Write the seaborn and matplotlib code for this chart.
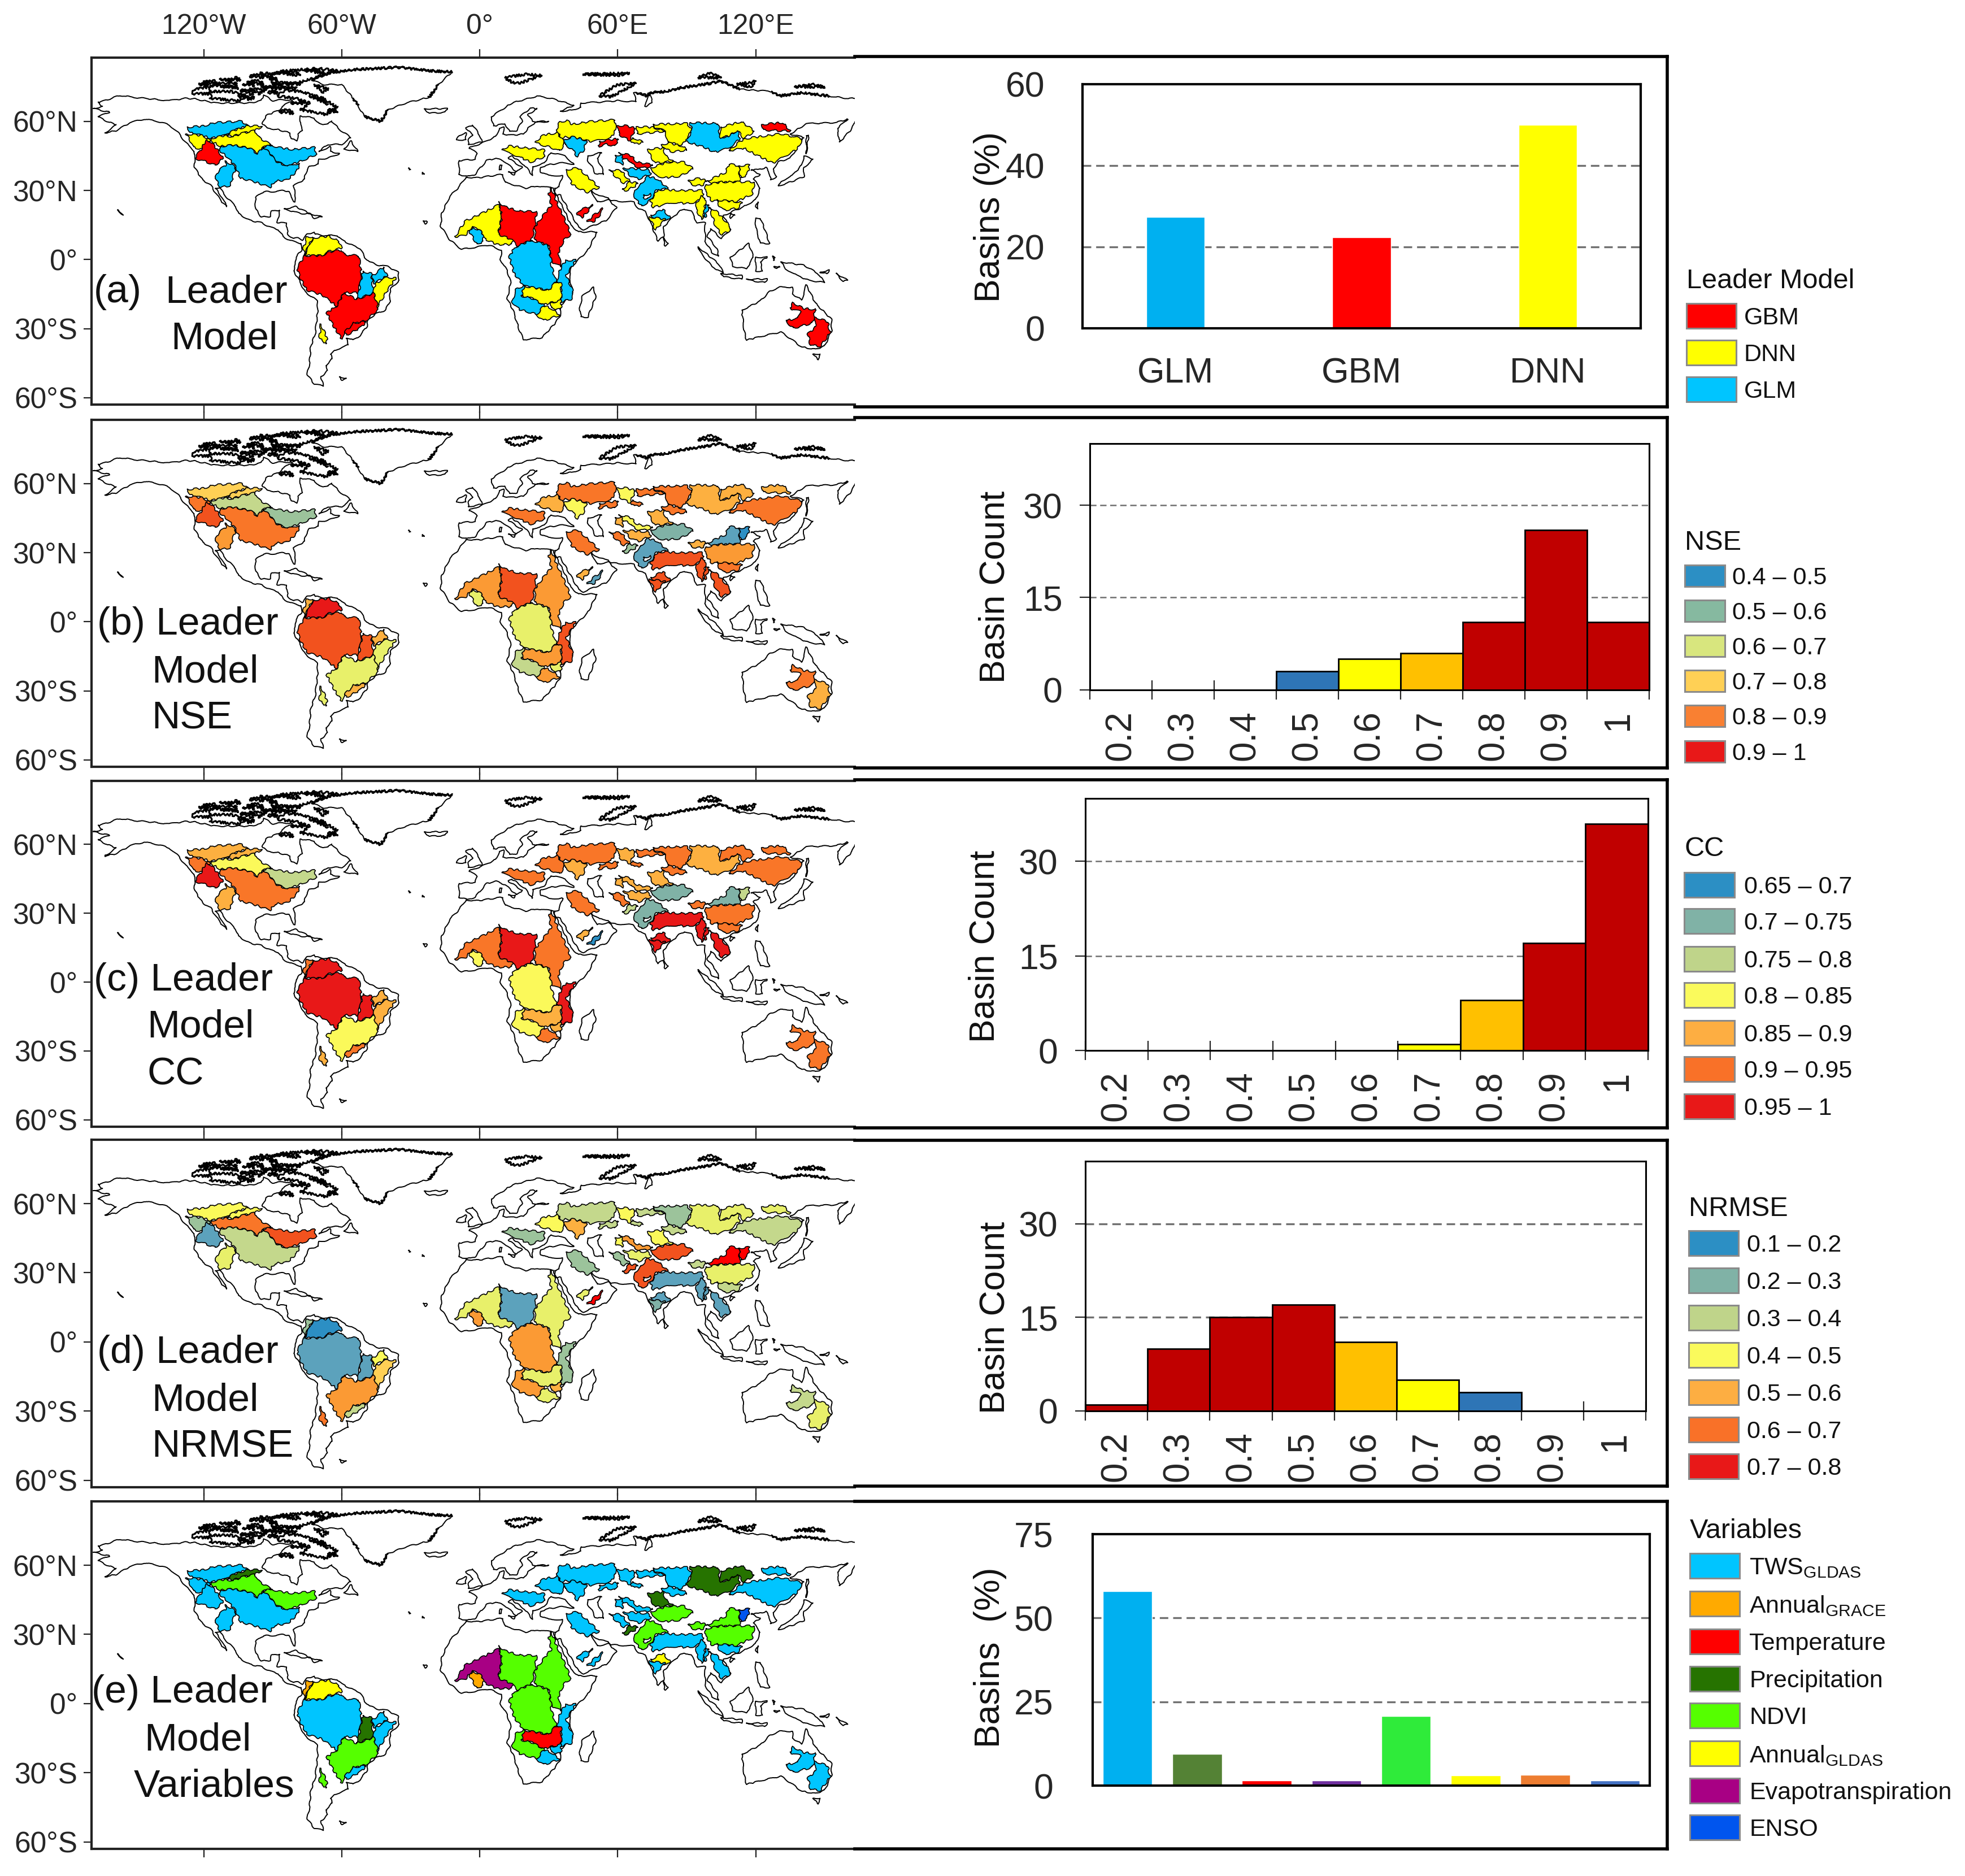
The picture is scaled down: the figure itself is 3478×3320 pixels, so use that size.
import matplotlib
matplotlib.use('Agg')
import matplotlib.pyplot as plt
import seaborn as sns
from matplotlib.lines import Line2D
from matplotlib.patches import Rectangle

W, H = 3478, 3320

# coastlines, lon/lat
AMERICAS = [(-168,65.6),(-164,66.5),(-166,68.3),(-163,69),(-156.5,71.3),(-150,70.4),(-141,69.6),(-135,69),(-128,70),(-124,69.8),(-115,68),(-108,68),(-100,68),(-95,69),(-94,71.5),(-90,69),(-85,69.5),(-81.5,69),(-86,66.5),(-87,65),(-93,62.5),(-94.5,59),(-92.5,57),(-88,56.5),(-82.5,55),(-82,52.5),(-79.5,51.5),(-79,54.5),(-77,56),(-78,58.5),(-78,62.4),(-72,61.5),(-70,59),(-66,58.7),(-64.5,60.3),(-61,56.5),(-56,53),(-60,50),(-66,50),(-70,47),(-65,49),(-65,47),(-61,46),(-66,44),(-70,43.5),(-70,41.5),(-74,40.5),(-76,37),(-76,35),(-81,32),(-80,27),(-80.5,25),(-82,27),(-83,29.5),(-85,30),(-90,29.5),(-94,29.5),(-97.5,27),(-97.5,22),(-95,18.5),(-91,18.7),(-90.5,21),(-87,21.5),(-88,16),(-84,15.8),(-83.5,11),(-81,9),(-79,9.5),(-77,8.5),(-75,11),(-72,12),(-71.5,11),(-68,10.5),(-62,10.5),(-60,8.5),(-55,6),(-52,4.8),(-50,1),(-48,-1),(-44,-2.5),(-40,-3),(-35.5,-5.5),(-35,-9),(-39,-13),(-39,-18),(-41,-22),(-45,-23.5),(-48.5,-26),(-49,-29),(-52,-33),(-55,-35),(-58,-34),(-57,-37),(-62,-39),(-65,-41),(-64,-43),(-67,-46),(-66,-48),(-69,-51),(-68,-55),(-72,-54),(-75,-50),(-74,-45),(-73.5,-38),(-71.5,-32),(-70.5,-23),(-70.5,-18),(-76,-14),(-79,-8),(-81,-5),(-80,-2),(-80,1),(-77.5,4),(-77.5,7),(-80,7.5),(-83,8.5),(-85.5,10),(-87.5,13),(-91,14),(-95,16),(-100,17),(-105,20),(-106,23),(-110,27),(-113,31),(-115,31),(-112,27),(-110,23),(-112,25),(-115,29),(-117,32.5),(-120.5,34.5),(-124,40),(-124,47),(-128,51),(-131,55),(-135,58.5),(-140,60),(-146,61),(-152,59.5),(-158,56),(-163,55),(-158,58.5),(-162,60),(-166,62),(-161,64),(-168,65.6)]
EURASIA = [(-9,37),(-9,43),(-2,43.5),(-1,46),(-4.5,48.5),(2,51),(7,53.5),(8.5,57),(10.5,57.5),(10,54.5),(14,54),(19,54.5),(21,57),(24,59.5),(30,60),(23,60),(21,63),(25,65.5),(22,65.8),(17.5,62),(18.5,60),(16,56),(13,55.5),(11,59),(6,58),(5,62),(14,68),(25,71),(31,70),(41,67),(35,64.5),(38,64.5),(44,66),(44,68),(54,68.5),(60,69),(68,68.5),(67,72.5),(73,71),(72,66.5),(75,68),(74,72.5),(81,73),(87,74.5),(100,76.5),(105,77.5),(113,74),(127,73),(130,71),(140,72.5),(152,71),(160,70),(170,70),(180,69),(180,65),(172,62),(163,60),(162,57),(156.5,51),(155.5,57),(160,61),(155,59.5),(142,59),(135,54.5),(141,53),(135,44),(130,42.5),(127.5,39.5),(129,36),(126.5,34.5),(126,37.5),(124.5,40),(121,39),(118,39),(122,37),(119,35),(122,31),(120,26),(114,22.5),(110,21),(106,19),(109,13),(105,9),(100.5,13.5),(99,10),(103,5),(104,1.5),(101,3),(98,8),(98,16),(94.5,16),(92,21),(89,22),(87,21),(82,16.5),(80,14),(80,10),(77.5,8),(73,19),(72,21),(69,22),(67,25),(57,25.5),(56,27),(52,27.5),(48.5,30),(51,25),(56,26),(59.5,22.5),(55,17),(45,13),(43,14),(39,21),(35,28),(33,28),(32.5,31),(34.5,31.5),(36,36.5),(30,36.5),(26.5,38),(26.5,40),(29,41),(35,42),(41,41.5),(37,45),(31,46.5),(28,42),(26,40.8),(23,40.5),(23,36.5),(19.5,41),(14,45),(12.5,44),(18.5,40),(16,38),(11,42.5),(7,44),(3,43),(0,39.5),(-2,37),(-5.5,36),(-9,37)]
AFRICA = [(-6,35.8),(-1,35.5),(10,37),(11,33.5),(20,31),(25,32),(32,31),(33,28.5),(37,21),(39.5,15),(43,12),(51,12),(47,4),(40,-3),(39,-7),(40.5,-15),(35,-20),(35,-24.5),(32.5,-28),(27,-34),(19,-34.8),(17,-30),(14.5,-22),(12,-17),(13.5,-10),(12,-5),(9,0),(9.5,4),(4,6.3),(-4,5),(-8,4.5),(-13,8.5),(-17,14.5),(-16.5,20),(-13,27.5),(-9.5,31),(-6,35.8)]
AUSTRALIA = [(114,-22),(122,-18),(126,-14),(130,-12),(136,-12),(136,-15),(140,-17.5),(142,-11),(146,-19),(153,-26),(153,-31),(150,-37.5),(146,-39),(140,-38),(136,-35),(131,-31.5),(124,-33),(116,-35),(115,-31),(114,-22)]
GREENLAND = [(-73,78),(-66,81),(-55,82.5),(-35,83.5),(-22,82),(-12,81.5),(-18,76),(-22,70.5),(-32,68),(-40,65),(-43,60),(-50,62),(-53,67),(-55,70),(-60,76),(-68,76),(-73,78)]
CASPIAN = [(47,45),(53,46.5),(51,44),(53,40),(54,37),(50,37.5),(49,40),(47,43),(47,45)]
ISLANDS = [
    [(49.5,-12),(50.5,-16),(47,-25),(44,-25),(43.5,-21),(44.5,-16),(49.5,-12)],
    [(80,9.5),(82,7),(80.5,6),(80,8),(80,9.5)],
    [(95,5.5),(104,-2),(106,-6),(101,-3),(96,3),(95,5.5)],
    [(105,-6),(114,-7),(114,-8.5),(106,-7.5),(105,-6)],
    [(109,1),(117,7),(119,1),(116,-4),(110,-3),(109,1)],
    [(120,1),(125,1),(122,-1),(123,-5),(120,-5),(120,1)],
    [(120,18),(122,18),(124,13),(126,7),(122,7),(120,14),(120,18)],
    [(131,-1),(141,-2.5),(147,-6),(150,-10),(143,-9),(138,-7),(133,-4),(131,-1)],
    [(130,32),(136,34),(141,36),(141,40),(145,43.5),(141,45),(140,41),(136,36.5),(131,34),(130,32)],
    [(142,46),(143,54),(142,54),(142,49),(142,46)],
    [(145,-41),(148,-41),(147,-43.5),(145,-41)],
    [(121,25),(121,22),(120,23),(121,25)],
    [(109,20),(111,19.5),(109,18),(109,20)],
    [(-85,22),(-80,23),(-74,20),(-78,20),(-85,22)],
    [(-74,20),(-68.5,18.5),(-72,18),(-74,20)],
    [(-59,48),(-53,47),(-56,51.5),(-59,48)],
    [(-24,65.5),(-14,65.5),(-15,64),(-22,63.5),(-24,65.5)],
    [(-5,50),(1,51),(0,54),(-3,58.5),(-6,57),(-3,54),(-5,52),(-5,50)],
    [(-10,52),(-6,52),(-6,55),(-9,54),(-10,52)],
    [(-61,-51),(-58,-51.5),(-60,-52.3),(-61,-51)],
    [(-157.5,21.5),(-155,19.3),(-156,20.5),(-157.5,21.5)],
    [(-31,39.7),(-30,39.2),(-30.5,38.8),(-31,39.7)],
    [(-25,37.8),(-24,37.2),(-25,37),(-25,37.8)],
    [(-24.5,16.8),(-23.5,15.5),(-23,16.5),(-24.5,16.8)],
    [(9,41),(9.7,41),(9.5,39),(8.5,39),(9,41)],
    [(12.5,38),(15.5,38),(15,36.8),(12.5,38)],
    [(128,-3),(130.5,-3),(129,-3.8),(128,-3)],
    [(127.5,1.5),(128.5,1),(128,-0.5),(127.5,1.5)],
    [(116,-8.5),(125,-8.5),(124,-10),(117,-9),(116,-8.5)],
    [(148,-5.5),(152,-4.5),(151,-6.2),(148,-5.5)],
    [(155,-6),(160,-9),(158,-9.5),(155,-6)],
]
ARCTIC = [
    [(-62,66),(-67,63),(-72,64),(-78,65),(-74,68),(-80,70),(-88,71),(-85,73.5),(-78,73),(-68,70),(-62,66)],
    [(-90,77),(-80,76.5),(-75,78),(-62,82),(-70,83),(-85,82),(-92,80),(-90,77)],
    [(-117,70),(-105,69),(-101,71),(-108,73),(-117,73),(-117,70)],
    [(-125,72),(-118,72),(-117,75),(-124,74),(-125,72)],
    [(-95,75),(-80,75),(-80,74),(-92,74.5),(-95,75)],
    [(-95,80),(-88,78),(-92,81),(-95,80)],
    [(-117,75.5),(-106,75),(-106,76.5),(-116,76.5),(-117,75.5)],
    [(-100,74),(-96,72),(-93,74),(-100,74)],
    [(-104,73.5),(-99,71.5),(-98,73.5),(-104,73.5)],
    [(-87,64),(-81,63.5),(-84,65.5),(-87,64)],
    [(-120,77),(-114,76),(-116,78),(-120,77)],
    [(-110,78),(-104,78),(-106,79),(-110,78)],
    [(-101,77),(-94,76),(-96,78),(-101,77)],
    [(-100,79.5),(-94,79),(-95,81),(-100,79.5)],
    [(-82,68),(-78,67.5),(-76,68.5),(-82,68)],
    [(-112,75),(-105,74.5),(-108,75.5),(-112,75)],
    [(-103,76),(-98,75.5),(-99,76.8),(-103,76)],
    [(-92,72.5),(-88,72),(-89,73.5),(-92,72.5)],
    [(-84,76),(-78,76.2),(-82,77),(-84,76)],
    [(-88,81),(-78,80),(-80,81.5),(-88,81)],
    [(-76,82),(-68,81),(-70,82.5),(-76,82)],
    [(-72,76),(-66,74),(-68,72.5),(-72,76)],
    [(-122,76),(-118,75.5),(-119,76.5),(-122,76)],
    [(-113,78.5),(-108,77),(-110,78),(-113,78.5)],
    [(-105,71),(-100,69.5),(-98,70.5),(-105,71)],
    [(-90,75.8),(-86,75.5),(-87,76.6),(-90,75.8)],
    [(-74,71),(-68,69),(-66,67.5),(-74,71)],
    [(-66,65),(-62,63.5),(-63,65),(-66,65)],
    [(11,79),(20,80.5),(27,80),(17,76.5),(14,77),(11,79)],
    [(45,80.5),(65,81),(60,80),(45,80.5)],
    [(52,71),(57,70.7),(68,76.5),(60,76),(55,73),(52,71)],
    [(95,79),(105,79),(100,81),(95,79)],
    [(137,75),(150,75),(145,76),(137,75)],
    [(120,77.5),(112,76),(118,75),(120,77.5)],
    # heavy stretches of the Greenland and Siberian shores
    [(-73,78),(-66,81),(-55,82.5),(-35,83.5),(-22,82),(-12,81.5)],
    [(-18,76),(-22,70.5)],
    [(-40,65),(-43,60),(-50,62)],
    [(-55,70),(-53,67)],
    [(68,72.5),(73,71),(74,72.5),(81,73),(87,74.5),(100,76.5),(105,77.5),(113,74)],
    [(127,73),(130,71),(140,72.5),(152,71)],
]

# basin outlines, lon/lat
MACKENZIE = [(-127.3,57.5),(-120,58),(-115.5,59.4),(-103.4,60.1),(-100.9,58),(-107.3,56),(-111.2,53.8),(-117,52.6),(-120.2,53.8),(-125.5,55)]
NELSON = [(-111,53.8),(-107,56),(-101,58),(-94.5,58),(-97.7,56),(-103,54.9),(-107.3,53.6)]
SASK = [(-117,52.6),(-111.2,53.8),(-107.3,53.4),(-103,54.9),(-97.7,56),(-96.1,53.1),(-90.6,49.7),(-94.4,48.7),(-96.6,45.8),(-99.8,48.3),(-107.3,49.7),(-112.7,49.2),(-117,51.6)]
STLAWRENCE = [(-90.6,49.7),(-87.6,48.7),(-81.5,47.8),(-71.9,48.7),(-70.8,45.8),(-77.3,42.9),(-83.7,40.5),(-89,42.9),(-91.2,46.3),(-94.4,48.7)]
MISSISSIPPI = [(-112.7,49.2),(-107.3,49.7),(-99.8,48.3),(-96.6,45.8),(-94.4,48.7),(-91.2,46.3),(-89,42.9),(-83.7,40.5),(-78.3,41.9),(-79.4,38.5),(-83.7,34.6),(-89,34.1),(-91.2,31.3),(-97.7,33.7),(-104,35.3),(-106.1,40.2),(-109.4,44.3),(-112.7,46.8)]
FRASER = [(-127.7,54.6),(-120.2,53.8),(-117,51.6),(-120.2,47.9),(-124.5,48.7),(-125.5,51)]
COLUMBIA = [(-119,52.1),(-117,51.2),(-113.3,46.8),(-111.6,43.9),(-115,41),(-120.2,42.9),(-124,43.9),(-121.2,47.8),(-120.2,49.7)]
COLORADO = [(-110.5,42.9),(-106.1,40),(-107.3,36.1),(-108.4,32.2),(-112.7,31.3),(-115,35.1),(-113.7,38.5),(-110.5,41)]
MAGDALENA = [(-75.1,9.9),(-72.5,9.9),(-76.2,2.1),(-76.6,5)]
ORINOCO = [(-72.5,9.4),(-65.5,10.1),(-61.2,7.9),(-60.1,5),(-65.5,3.6),(-68.7,1.7),(-76.2,1.7)]
AMAZON = [(-76.2,1.7),(-68.7,1.7),(-65.5,3.3),(-60.1,4.1),(-59,2.1),(-52.6,1.7),(-51.5,-5.6),(-52.6,-14.4),(-59,-14.4),(-62.2,-20.2),(-68.7,-15.3),(-75.1,-13.4),(-78.3,-7.6),(-79.4,-3.7)]
TOCANTINS = [(-50.9,-5.1),(-47.2,-6.1),(-46.1,-14.4),(-53.6,-17.3),(-52.6,-14.4),(-51.5,-8.5)]
PARNAIBA = [(-41.8,-3.2),(-40.3,-7.1),(-46.1,-10.5),(-46.6,-7.1)]
SAOFRANCISCO = [(-40.3,-7.6),(-36.5,-8.1),(-40.8,-14.4),(-45,-21.2),(-46.1,-14.4),(-45.5,-10.5)]
PARANA = [(-59,-14.4),(-53.6,-17.3),(-46.1,-14.7),(-44,-21.5),(-49.4,-26.5),(-54.7,-28),(-60.1,-34.3),(-63.3,-29.4),(-66.5,-23.1),(-62.2,-20.2)]
URUGUAY = [(-54.7,-27.5),(-49.4,-27),(-51.5,-29.4),(-57.9,-32.8),(-59,-31.8)]
NEGRO = [(-69.1,-28),(-66.5,-33.8),(-66.5,-36.7),(-69.7,-34.3)]
NIGER = [(8.6,24),(0,19.6),(-6.4,16.7),(-10.7,9.9),(-6.4,10.4),(-3.2,14.3),(1.1,11.9),(2.1,9),(7.5,6.5),(14,6.5),(15,9.4),(9.7,10.9),(8.2,12.8),(9.7,18.7)]
VOLTA = [(-3.2,14.3),(1.1,11.9),(1.7,8),(-1.1,6.5),(-4.3,11.8)]
CHAD = [(8.2,25.2),(10.7,23),(17.2,21),(24.7,20.8),(24,14.3),(22.5,8.4),(16.1,5.7),(14,8.7),(8.2,10.9),(9.7,18.7)]
NILE = [(31.1,31.3),(33.3,25.4),(35.4,21),(39.7,10.9),(36.5,8.4),(34.3,3.1),(35.4,-3.2),(31.1,-0.8),(30,6),(24,8.4),(24,14.3),(27.9,19.6),(31.1,23.5),(30,28.4)]
CONGO = [(22.5,8.4),(30,6),(31.1,-0.8),(31.1,-2.7),(33.3,-9.5),(30,-13.4),(19.3,-11.5),(15,-6.1),(12.9,1.2),(15,5),(16.1,5.7)]
RUFIJI = [(37.6,-0.3),(41.8,-0.3),(37.6,-7.1),(40.8,-14.4),(39.7,-17.3),(35.4,-18.3),(35.4,-10.5),(33.3,-9.5),(35.4,-3.2)]
ZAMBEZI = [(19.3,-11.5),(30,-13.4),(33.3,-9.5),(35.4,-10.5),(35.4,-17.8),(31.1,-18.7),(27.9,-19.7),(22.5,-16.8),(18.2,-15.8)]
OKAVANGO = [(16.1,-12.4),(19.3,-11.5),(18.2,-15.8),(22.5,-16.8),(27.9,-19.7),(25.8,-24.1),(17.2,-21.7),(13.9,-18.3)]
LIMPOPO = [(24.7,-24.1),(27.9,-20),(31.1,-21.2),(34.8,-24.1),(27.9,-26.5)]
SABI = [(31.1,-18.7),(35.4,-17.8),(35.4,-21.7),(31.1,-21.2)]
EYRE = [(136.3,-18.7),(140.6,-21.2),(145.9,-21.7),(144.8,-27.5),(136.3,-29.9),(133,-26.5),(138.4,-25.5),(139.5,-22.6),(134.8,-21.2)]
MURRAY = [(145.9,-25),(151.3,-27),(152.4,-31.8),(148.1,-37.7),(143.8,-37.2),(142.7,-32.3),(145.9,-29.4)]
VOLGA = [(34.8,59.9),(38,60.3),(40.2,58.7),(47.6,59.9),(58.8,60.7),(59.1,56.2),(57.2,52.9),(51.4,51.7),(47.6,51.3),(44.4,52.5),(38,53.3),(35.4,52.9),(33.2,56.2)]
DNIEPER = [(24.2,51.3),(28,54.2),(33.8,55),(37,50.5),(34.8,47.2),(30.6,48.8),(25.8,50.1)]
DON = [(37,52.1),(40.2,53.3),(43.4,52.5),(46.6,51.7),(45,47.2),(42.3,44.8),(40.2,48),(37,49.7)]
DANUBE = [(9.8,48),(13,49.3),(27.9,47.6),(28.5,44.8),(22.1,42.3),(16.7,44.8),(12,46.4)]
URAL_N = [(59.9,58.2),(63.1,58.2),(67.9,57),(65.2,51.7),(61.5,53.7),(60.4,55)]
URAL_S = [(51.9,51.3),(57.2,52.1),(60.4,52.5),(58.8,49.3),(55.1,50.1),(51.9,49.2)]
IRTYSH = [(68.4,57.8),(75.3,57.4),(80.7,55.8),(73.2,55),(68.4,54.6)]
ISHIM = [(66.3,52.9),(67.9,52.5),(71.1,50.9),(67.3,50.1),(65.7,51.7)]
OB = [(75.3,58.7),(90.2,59.1),(92.4,56.2),(89.2,51.3),(88.1,49.7),(81.7,50.9),(80.7,55.8),(75.3,57.8)]
OB_S = [(79.1,50),(82.3,50.6),(88.1,49.3),(90.2,47.6),(83.9,46.8),(80.7,48)]
YENISEI = [(91.3,59.5),(103.6,59.1),(104.6,52.9),(108.4,53.7),(112.1,56.2),(113.2,52.5),(108.4,48.4),(102,46.6),(97.7,48.8),(89.7,51.3),(92.4,56.2)]
LENA = [(104.6,57.4),(113.7,59.9),(119.5,55.8),(114.8,52.5),(112.1,56.2),(108.4,53.7),(104.6,52.9)]
KOLYMA = [(122.8,58.7),(131.8,59.5),(135,55.8),(123.3,56.2)]
AMUR = [(115.3,52.5),(130.8,54.6),(140.3,52.5),(138.2,48),(127.5,41.9),(120.1,45.6),(114.8,48.4),(108.4,47.2),(112.6,50.9)]
TIGRIS = [(37.5,39),(42.8,39.8),(51.9,31.3),(46.6,29.2),(40.2,32.5)]
WADI_W = [(49.2,23.6),(48.7,22.7),(44.4,18.2),(42.1,19.4),(43.4,21.4)]
WADI_E = [(53.5,22.2),(53,20.2),(49.2,16.1),(46.6,16.5),(49.8,19.4)]
ARAL = [(58.8,45.2),(61.5,45.6),(62.5,44),(62,41.1),(59.4,42.3)]
SYR = [(60.4,46.5),(65.7,45.2),(68.4,42.3),(75.3,41.1),(72.1,39.8),(67.3,40.3),(66.3,42.3),(62.5,44)]
ILI = [(73.2,48),(79.6,48.4),(81.2,44.8),(83.9,42.7),(76.4,41.9),(74.3,44.8)]
TARIM = [(74.3,39.8),(81.7,42.3),(88.7,42.3),(92.9,39.4),(87.1,36.2),(79.6,35.4),(74.8,37.8)]
HELMAND = [(56.2,39),(61.5,38.6),(65.2,34.1),(62.5,33.3),(59.4,35.8)]
AMU = [(62.5,39.8),(73.2,39),(74.8,37.4),(68.9,34.9),(65.2,36.6)]
INDUS_W = [(62,30.4),(65.2,33.7),(68.9,33.3),(67.3,31.7),(63.6,30)]
INDUS = [(70,32.9),(73.2,36.2),(77.5,34.9),(81.7,30.8),(77,30.4),(74.3,25.9),(70.5,23.1),(67.3,26.8),(67.3,30)]
GANGES = [(77.5,30.4),(87.6,30),(96.6,30),(97.7,28.4),(94.5,25.1),(90.3,24.3),(84.4,24.7),(80.7,23.9),(75.3,22.7),(74.3,25.5)]
BRAHMA = [(90.8,34.5),(95.6,35.3),(98.8,34.1),(96.6,32.1),(91.9,32.5)]
SALWEEN = [(96.6,27.6),(98.2,26.8),(97.7,20.2),(96.6,17.4),(94,21.9),(94.5,25.1)]
MEKONG = [(99.9,22.7),(102.5,21.4),(108.9,14.5),(108.4,12.4),(105.2,10.8),(102.5,14.5)]
NARMADA = [(74.3,19),(79.6,21.9),(82.8,18.2),(81.7,16.9),(77,17.8)]
KRISHNA = [(73.7,18.6),(80.7,17.4),(76.4,12.9)]
YELLOW = [(98.8,34.1),(106.8,37.8),(108.4,41.5),(112.6,40.7),(113.2,35.3),(112.6,33.7),(100.9,33.3)]
HAI = [(112.6,40.7),(117.4,41.1),(116.4,37),(113.7,35.3)]
YANGTZE = [(98.2,32.5),(105.2,33.7),(112.6,33.7),(119.5,33.7),(118.5,28.4),(111.6,25.1),(100.9,25.5),(98.2,29.2)]
PEARL = [(103,25.9),(111.6,25.1),(114.2,24.7),(112.1,22.3),(106.2,21.4),(104.1,23.5)]
IRRAWADDY = [(98.2,23.9),(99.8,23.9),(98.2,18.6),(97.2,18.6)]
THAR = [(71.1,28),(74.3,28.4),(73.2,26.3),(71.1,26.8)]

BASINS = [MACKENZIE, NELSON, SASK, STLAWRENCE, MISSISSIPPI, FRASER, COLUMBIA, COLORADO,
          MAGDALENA, ORINOCO, AMAZON, TOCANTINS, PARNAIBA, SAOFRANCISCO, PARANA, URUGUAY, NEGRO,
          NIGER, VOLTA, CHAD, NILE, CONGO, RUFIJI, ZAMBEZI, OKAVANGO, LIMPOPO, SABI,
          EYRE, MURRAY,
          VOLGA, DNIEPER, DON, DANUBE, URAL_N, URAL_S, IRTYSH, ISHIM, OB, OB_S, YENISEI, LENA, KOLYMA, AMUR,
          TIGRIS, WADI_W, WADI_E, ARAL, SYR, ILI, TARIM, HELMAND, AMU, INDUS_W, INDUS,
          GANGES, BRAHMA, SALWEEN, MEKONG, NARMADA, KRISHNA, YELLOW, HAI, YANGTZE, PEARL, IRRAWADDY, THAR]

# one class letter per basin, same order as BASINS
CLASS_A = 'B Y Y B B Y R B  Y Y R B B Y R R Y  Y B R R B B Y B Y Y  R R  Y Y B Y R R Y Y Y Y B Y R Y  Y R R B R Y Y Y B Y B  Y Y Y Y B Y Y Y Y Y B W'.split()
CLASS_B = 'v v l h m m x q  o r x x o y y o y  q y x q y x q l q y  m o  m o w m w m m m m m o o o m  m o u o w o g m o h u  x o x x x x u t q m x W'.split()
CLASS_C = 'o o w l m m r o  m r r r o o w m o  m w r m w r o w m o  m m  m m o m o m m m m m o m m m  m o t o o o g m o l g  r m r r r r g l m m r W'.split()
CLASS_D = 'w w m x l h u y  h t u u w v q l m  y q u y q h y q y o  l y  l w o h w l l l h l y y y l  h y s w q w x h y x x  u l u u u g s s y l u W'.split()
CLASS_E = 'B P N N B B B B  A Y B P B B N B N  V A N N N B R N B B  B B  B B B B B B B B B B P P B B  B B B B B P N B B P N  B N B B Y B N E N B B W'.split()

CLASS_COLOURS = {'R': '#FF0000', 'Y': '#FFFF00', 'B': '#00C5FF', 'A': '#FFAA00', 'P': '#267300',
                 'N': '#55FF00', 'V': '#A80084', 'E': '#0055EE', 'W': '#FFFFFF',
                 't': '#2C8FC4', 'u': '#5CA2BC', 'g': '#80B2A6', 'h': '#9CC39B', 'l': '#C4D88C',
                 'y': '#E8F06A', 'w': '#FBF95A', 'v': '#FFD055', 'o': '#FDB040', 'q': '#FB9A34',
                 'm': '#F97628', 'x': '#F2521E', 'r': '#E81818', 's': '#FF0000'}

LON_TICKS = [-120, -60, 0, 60, 120]
LON_LABELS = ['120°W', '60°W', '0°', '60°E', '120°E']
LAT_TICKS = [60, 30, 0, -30, -60]
LAT_LABELS = ['60°N', '30°N', '0°', '30°S', '60°S']

# bar values
MODEL_NAMES = ['GLM', 'GBM', 'DNN']
MODEL_SHARE = [27.3, 22.4, 50]
MODEL_BAR_COLOURS = ['#00B0F0', '#FF0000', '#FFFF00']

BIN_LABELS = ['0.2', '0.3', '0.4', '0.5', '0.6', '0.7', '0.8', '0.9', '1']
NSE_COUNTS = [0, 0, 0, 3, 5, 6, 11, 26, 11]
NSE_BAR_COLOURS = ['#C00000', '#C00000', '#C00000', '#2E75B6', '#FFFF00', '#FFC000', '#C00000', '#C00000', '#C00000']
CC_COUNTS = [0, 0, 0, 0, 0, 1, 8, 17, 36]
CC_BAR_COLOURS = ['#C00000', '#C00000', '#C00000', '#C00000', '#C00000', '#FFFF00', '#FFC000', '#C00000', '#C00000']
NRMSE_COUNTS = [1, 10, 15, 17, 11, 5, 3, 0, 0]
NRMSE_BAR_COLOURS = ['#C00000', '#C00000', '#C00000', '#C00000', '#FFC000', '#FFFF00', '#2E75B6', '#2E75B6', '#2E75B6']

VAR_NAMES = ['TWS', 'GRACE', 'Temp', 'ET', 'NDVI', 'GLDAS', 'Precip', 'ENSO']
VAR_SHARE = [58, 9.5, 1.5, 1.5, 20.7, 3, 3.2, 1.5]
VAR_BAR_COLOURS = ['#00B0F0', '#548235', '#FF0000', '#7030A0', '#2FEB3A', '#FFFF00', '#ED7D31', '#4472C4']

# legends
LEADER_LABELS = ['GBM', 'DNN', 'GLM']
LEADER_COLOURS = ['#FF0000', '#FFFF00', '#00C5FF']
NSE_LABELS = ['0.4 – 0.5', '0.5 – 0.6', '0.6 – 0.7', '0.7 – 0.8', '0.8 – 0.9', '0.9 – 1']
NSE_COLOURS = ['#2C8FC4', '#86B9A0', '#D8E67E', '#FFD055', '#F98032', '#E81818']
CC_LABELS = ['0.65 – 0.7', '0.7 – 0.75', '0.75 – 0.8', '0.8 – 0.85', '0.85 – 0.9', '0.9 – 0.95', '0.95 – 1']
NRMSE_LABELS = ['0.1 – 0.2', '0.2 – 0.3', '0.3 – 0.4', '0.4 – 0.5', '0.5 – 0.6', '0.6 – 0.7', '0.7 – 0.8']
SEVEN_COLOURS = ['#2C8FC4', '#80B2A6', '#BFD48A', '#FAFA5C', '#FDAE42', '#F97128', '#E81818']
VARIABLE_LABELS = ['TWS$_{\\mathregular{GLDAS}}$', 'Annual$_{\\mathregular{GRACE}}$', 'Temperature', 'Precipitation', 'NDVI',
                   'Annual$_{\\mathregular{GLDAS}}$', 'Evapotranspiration', 'ENSO']
VARIABLE_COLOURS = ['#00C5FF', '#FFAA00', '#FF0000', '#267300', '#55FF00', '#FFFF00', '#A80084', '#0055EE']

sns.set_theme(style='white')
plt.rcParams['font.family'] = 'Liberation Sans'
plt.rcParams['mathtext.fontset'] = 'custom'
plt.rcParams['mathtext.rm'] = 'Liberation Sans'
plt.rcParams['text.color'] = '#111111'

fig = plt.figure(figsize=(W / 100, H / 100), dpi=100)


def axes_px(left, top, right, bottom):
    return fig.add_axes([left / W, 1 - bottom / H, (right - left) / W, (bottom - top) / H])


def text_px(x, y, s, **kw):
    kw.setdefault('va', 'center')
    fig.text(x / W, 1 - y / H, s, **kw)


def draw_map(top, bottom, classes, show_lon_labels=False):
    ax = axes_px(162, top, 1513, bottom)
    for shape in [AMERICAS, EURASIA, AFRICA, AUSTRALIA, GREENLAND, CASPIAN] + ISLANDS:
        line, = ax.plot(*zip(*shape), color='black', lw=1.4, zorder=1)
        line.set_sketch_params(scale=1.0, length=30, randomness=4)
    for shape in ARCTIC:
        line, = ax.plot(*zip(*shape), color='black', lw=2.2, zorder=1)
        line.set_sketch_params(scale=2, length=10, randomness=5)
    for shape, key in zip(BASINS, classes):
        for patch in ax.fill(*zip(*shape), facecolor=CLASS_COLOURS[key], edgecolor='black', lw=1.2, zorder=2):
            patch.set_sketch_params(scale=1.6, length=24, randomness=5)
    ax.set_xlim(-168.8, 163.1)
    ax.set_ylim(-63, 87.7)
    ax.set_xticks(LON_TICKS)
    ax.set_xticklabels(LON_LABELS if show_lon_labels else [])
    ax.set_yticks(LAT_TICKS, LAT_LABELS)
    ax.tick_params(axis='x', bottom=True, top=True, labelbottom=False, labeltop=show_lon_labels,
                   length=11, width=1.6, labelsize=36, pad=12, color='#222222')
    ax.tick_params(axis='y', left=True, length=10, width=1.6, labelsize=37, pad=8, color='#222222')
    ax.spines['right'].set_visible(False)
    for side in ['left', 'top', 'bottom']:
        ax.spines[side].set_linewidth(3)
        ax.spines[side].set_color('#222222')
    return ax


def outer_box(top, bottom):
    for xs, ys in [((1513, 2951), (top, top)), ((1513, 2951), (bottom, bottom)), ((2951, 2951), (top, bottom))]:
        fig.add_artist(Line2D([x / W for x in xs], [1 - y / H for y in ys], color='black', lw=4, solid_capstyle='projecting'))


def bar_frame(ax, lw):
    for side in ax.spines:
        ax.spines[side].set_visible(True)
        ax.spines[side].set_linewidth(lw)
        ax.spines[side].set_color('black')


def draw_share(box, names, values, colours, ymax, grid, width, labels, pad):
    ax = axes_px(*box)
    sns.barplot(x=names, y=values, hue=names, palette=dict(zip(names, colours)), legend=False,
                width=width, saturation=1, ax=ax)
    for g in grid:
        ax.axhline(g, color='#707070', lw=2.4, dashes=(4.5, 2.6), zorder=0.5)
    ax.set_xlim(-0.5, len(names) - 0.5)
    ax.set_ylim(0, ymax)
    ax.set_yticks(labels)
    ax.set_xlabel('')
    ax.set_ylabel('')
    ax.tick_params(axis='y', left=False, labelsize=45, pad=pad)
    bar_frame(ax, 3)
    return ax


def draw_hist(box, values, colours, line_lw):
    ax = axes_px(*box)
    sns.barplot(x=BIN_LABELS, y=values, hue=BIN_LABELS, palette=dict(zip(BIN_LABELS, colours)), legend=False,
                width=1, saturation=1, edgecolor='black', linewidth=2, ax=ax)
    for g in [15, 30]:
        ax.axhline(g, color='#707070', lw=line_lw, dashes=(4.5, 2.6), zorder=0.5)
    ax.set_xlim(-0.5, 8.5)
    ax.set_ylim(0, 40)
    ax.set_axisbelow(True)
    ax.set_xticks([i - 0.5 for i in range(10)])
    ax.set_xticklabels([])
    ax.set_xticks(range(9), BIN_LABELS, minor=True)
    ax.tick_params(axis='x', which='major', bottom=True, direction='inout', length=25, width=1.6)
    ax.tick_params(axis='x', which='minor', bottom=False, length=0, labelsize=46, labelrotation=90, pad=26)
    ax.set_yticks([0, 15, 30])
    ax.tick_params(axis='y', left=True, length=13, width=1.6, labelsize=45, pad=22)
    ax.set_xlabel('')
    ax.set_ylabel('')
    bar_frame(ax, 2.2)
    return ax


def draw_legend(title, title_y, x, sw, h, tx, centres, labels, colours):
    text_px(x, title_y + 5, title, fontsize=35, ha='left')
    for c, lab, col in zip(centres, labels, colours):
        fig.add_artist(Rectangle((x / W, 1 - (c + h / 2) / H), sw / W, h / H, transform=fig.transFigure,
                                 facecolor=col, edgecolor='#8a8a8a', lw=2.2))
        text_px(tx, c + 4, lab, fontsize=31, ha='left')


# maps
draw_map(102, 716, CLASS_A, show_lon_labels=True)
draw_map(743, 1357, CLASS_B)
draw_map(1382, 1994, CLASS_C)
draw_map(2017, 2632, CLASS_D)
draw_map(2657, 3272, CLASS_E)

# panel captions
for x, y, s in [(166, 517, '(a)'), (292, 517, 'Leader'), (302, 599, 'Model'),
                (172, 1105, '(b) Leader'), (268, 1189, 'Model'), (268, 1271, 'NSE'),
                (166, 1735, '(c) Leader'), (260, 1817, 'Model'), (260, 1901, 'CC'),
                (172, 2394, '(d) Leader'), (268, 2478, 'Model'), (268, 2560, 'NRMSE'),
                (162, 2995, '(e) Leader'), (255, 3079, 'Model'), (237, 3161, 'Variables')]:
    text_px(x, y, s, fontsize=50, ha='left', zorder=5)

# frames round the bar panels
for t, b in [(100, 720), (739, 1359), (1380, 1996), (2018, 2630), (2657, 3272)]:
    outer_box(t, b)

# bar panels
ax = draw_share((1916, 149, 2904, 581), MODEL_NAMES, MODEL_SHARE, MODEL_BAR_COLOURS, 60, [20, 40], 0.314, [0, 20, 40, 60], 42)
ax.tick_params(axis='x', bottom=False, labelsize=45, pad=30)
text_px(1752, 384, 'Basins (%)', fontsize=45, rotation=90, ha='center')

draw_hist((1929, 785, 2919, 1221), NSE_COUNTS, NSE_BAR_COLOURS, 1.8)
text_px(1761, 1039, 'Basin Count', fontsize=45, rotation=90, ha='center')

draw_hist((1921, 1413, 2917, 1859), CC_COUNTS, CC_BAR_COLOURS, 1.8)
text_px(1743, 1675, 'Basin Count', fontsize=45, rotation=90, ha='center')

draw_hist((1921, 2055, 2913, 2497), NRMSE_COUNTS, NRMSE_BAR_COLOURS, 2.4)
text_px(1761, 2332, 'Basin Count', fontsize=45, rotation=90, ha='center')

ax = draw_share((1934, 2715, 2920, 3160), VAR_NAMES, VAR_SHARE, VAR_BAR_COLOURS, 75, [25, 50], 0.71, [0, 25, 50, 75], 44)
ax.set_xticklabels([])
ax.tick_params(axis='x', bottom=False)
text_px(1752, 2933, 'Basins  (%)', fontsize=45, rotation=90, ha='center')

# legends
draw_legend('Leader Model', 492, 2985, 88, 44, 3087, [559, 624, 689], LEADER_LABELS, LEADER_COLOURS)
draw_legend('NSE', 955, 2982, 71, 38, 3066, [1019, 1081, 1143, 1205, 1267, 1330], NSE_LABELS, NSE_COLOURS)
draw_legend('CC', 1497, 2981, 89, 44, 3087, [1566, 1630, 1697, 1761, 1828, 1892, 1958], CC_LABELS, SEVEN_COLOURS)
draw_legend('NRMSE', 2134, 2989, 88, 44, 3092, [2200, 2266, 2332, 2398, 2464, 2530, 2595], NRMSE_LABELS, SEVEN_COLOURS)
draw_legend('Variables', 2704, 2991, 88, 44, 3096, [2771, 2838, 2905, 2971, 3036, 3103, 3169, 3234], VARIABLE_LABELS, VARIABLE_COLOURS)

plt.savefig('out.png', dpi=100)
